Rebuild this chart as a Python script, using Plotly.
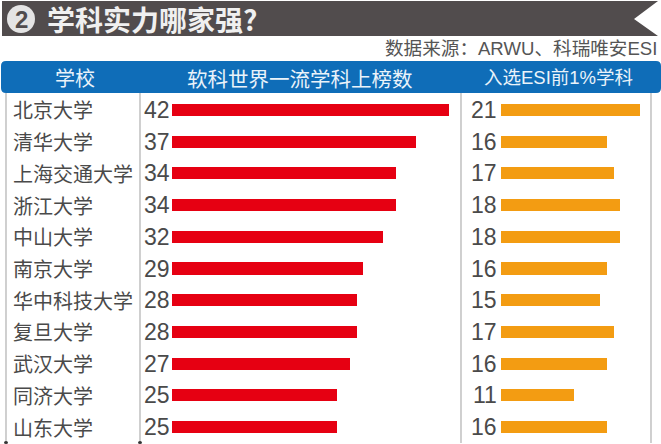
import plotly.graph_objects as go

schools = ["北京大学", "清华大学", "上海交通大学", "浙江大学", "中山大学", "南京大学",
           "华中科技大学", "复旦大学", "武汉大学", "同济大学", "山东大学"]
top_subjects = [42, 37, 34, 34, 32, 29, 28, 28, 27, 25, 25]
esi_subjects = [21, 16, 17, 18, 18, 16, 15, 17, 16, 11, 16]
headers = ["学校", "软科世界一流学科上榜数", "入选ESI前1%学科"]
title = "学科实力哪家强?"
source = "数据来源：ARWU、科瑞唯安ESI"

W, H = 661, 444
CJK = "Noto Sans CJK SC"
LAT = "Liberation Sans"
MIX = "Liberation Sans, Noto Sans CJK SC"
RED, ORANGE, BLUE, BAND = "#e60012", "#f39c12", "#0f6db8", "#514c4d"
TEXT = "#4a4a4a"

def px(x): return x / W
def py(y): return 1 - y / H

fig = go.Figure()
fig.add_trace(go.Bar(x=top_subjects, y=schools, orientation="h", width=0.38,
                     marker=dict(color=RED, line_width=0), xaxis="x", yaxis="y", showlegend=False))
fig.add_trace(go.Bar(x=esi_subjects, y=schools, orientation="h", width=0.38,
                     marker=dict(color=ORANGE, line_width=0), xaxis="x2", yaxis="y", showlegend=False))

shapes = [
    dict(type="path", xref="paper", yref="paper", layer="below", line_width=0, fillcolor=BAND,
         path=f"M {px(2)} {py(1)} L {px(658)} {py(1)} L {px(634)} {py(19)} L {px(658)} {py(36)} L {px(2)} {py(36)} Z"),
    dict(type="circle", xref="paper", yref="paper", layer="below", line_width=0, fillcolor="#e4e4e4",
         x0=px(7), x1=px(35), y0=py(33), y1=py(5)),
    dict(type="path", xref="paper", yref="paper", layer="below", line_width=0, fillcolor=BLUE,
         path=(f"M {px(1)} {py(66)} Q {px(1)} {py(61)} {px(6)} {py(61)} L {px(656)} {py(61)} "
               f"Q {px(661)} {py(61)} {px(661)} {py(66)} L {px(661)} {py(88)} Q {px(661)} {py(93)} {px(656)} {py(93)} "
               f"L {px(6)} {py(93)} Q {px(1)} {py(93)} {px(1)} {py(88)} Z")),
]
for vx in (6, 140, 461, 651):
    shapes.append(dict(type="line", xref="paper", yref="paper", layer="below",
                       x0=px(vx), x1=px(vx), y0=py(93), y1=py(443),
                       line=dict(color="#c4c4c4", width=1.6)))
for vx in (6, 140):
    shapes.append(dict(type="circle", xref="paper", yref="paper", layer="below", line_width=0,
                       fillcolor="#333333", x0=px(vx - 2), x1=px(vx + 2), y0=py(444), y1=py(441)))

ann = []
def text(x, y, s, size, color, anchor="left", font=CJK, yref="paper"):
    ann.append(dict(x=px(x), y=py(y) if yref == "paper" else y, xref="paper", yref=yref, text=s,
                    showarrow=False, xanchor=anchor, yanchor="middle",
                    font=dict(family=font, size=size, color=color), borderpad=0, borderwidth=0))

text(21, 19, "<b>2</b>", 24, BAND, "center", LAT)
text(47, 19, f"<b>{title}</b>", 28, "#f0f0f0")
text(657, 48, source, 18.6, "#555555", "right", MIX)
text(75, 78, headers[0], 20, "#eaf3fa", "center")
text(300, 78, headers[1], 20.5, "#eaf3fa", "center")
text(558, 78, headers[2], 18.5, "#eaf3fa", "center", MIX)
for i, s in enumerate(schools):
    text(13, s, s, 20, TEXT, "left", CJK, "y")
    text(170, s, str(top_subjects[i]), 23, TEXT, "right", LAT, "y")
    text(497, s, str(esi_subjects[i]), 23, TEXT, "right", LAT, "y")

fig.update_layout(
    width=W, height=H, autosize=False,
    margin=dict(l=0, r=0, t=0, b=0),
    paper_bgcolor="#ffffff", plot_bgcolor="rgba(0,0,0,0)",
    barmode="overlay", bargap=0,
    xaxis=dict(domain=[px(172), px(449)], range=[0, 42], visible=False, fixedrange=True),
    xaxis2=dict(domain=[px(501), px(640)], range=[0, 21], visible=False, fixedrange=True),
    yaxis=dict(domain=[py(443), py(94)], type="category", categoryorder="array", categoryarray=schools,
               range=[10.5, -0.5], visible=False, fixedrange=True),
    shapes=shapes, annotations=ann,
)
fig.write_html("out.html", config={"displayModeBar": False},
               post_script="document.body.style.margin='0';document.documentElement.style.overflow='hidden';")
